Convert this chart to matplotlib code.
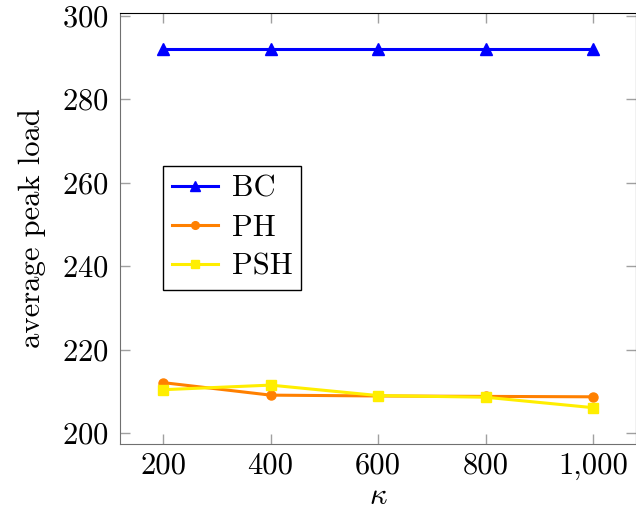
import numpy as np
import matplotlib
matplotlib.use('Agg')
import matplotlib.pyplot as plt

plt.rcParams['font.family'] = 'serif'
plt.rcParams['font.serif'] = ['cmr10']
plt.rcParams['mathtext.fontset'] = 'cm'
plt.rcParams['axes.formatter.use_mathtext'] = True

kappa = [200, 400, 600, 800, 1000]
x_labels = ['200', '400', '600', '800', '1,000']
bc = [292, 292, 292, 292, 292]
ph = [212.1, 209.1, 208.9, 208.8, 208.7]
psh = [210.4, 211.5, 209.0, 208.6, 206.1]
y_ticks = [200, 220, 240, 260, 280, 300]

fig = plt.figure(figsize=(6.36, 5.16), dpi=100)
ax = fig.add_axes([120/636, 1 - 444/516, 516/636, 431/516])

ax.plot(kappa, bc, color='#0000ff', lw=2.2, marker='^', ms=9, label='BC')
ax.plot(kappa, ph, color='#ff8000', lw=2.2, marker='o', ms=6.5, label='PH')
ax.plot(kappa, psh, color='#ffee00', lw=2.2, marker='s', ms=6.5, label='PSH')

ax.set_xlim(120, 1080)
ax.set_ylim(197.4, 300.6)
ax.set_xticks(kappa)
ax.set_xticklabels(x_labels)
ax.set_yticks(y_ticks)
ax.tick_params(direction='in', length=7, width=1, color='#a0a0a0',
               top=True, right=True, labelsize=22)
ax.tick_params(axis='y', pad=8)
ax.tick_params(axis='x', pad=6)
for s in ['left', 'bottom']:
    ax.spines[s].set_color('#707070')
for s in ['top', 'right']:
    ax.spines[s].set_color('black')

ax.set_xlabel(r'$\kappa$', fontsize=22, labelpad=2)
ax.set_ylabel('average peak load', fontsize=22, labelpad=12)

leg = ax.legend(loc='upper left', bbox_to_anchor=(0.083, 0.645), fontsize=22,
                frameon=True, fancybox=False, edgecolor='black', framealpha=1,
                handlelength=1.5, handletextpad=0.45, borderpad=0.3,
                labelspacing=0.38, borderaxespad=0, markerscale=0.85)
leg.get_frame().set_linewidth(1.0)

fig.savefig('out.png', dpi=100)
